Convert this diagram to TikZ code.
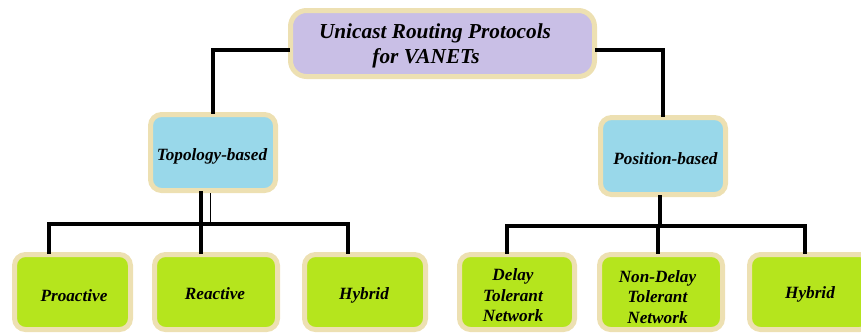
\documentclass[tikz,border=0pt]{standalone}
\usepackage{fontspec}
\setmainfont{Liberation Serif}
\definecolor{rimcol}{RGB}{237,224,178}
\definecolor{rootfill}{RGB}{201,191,230}
\definecolor{midfill}{RGB}{153,216,234}
\definecolor{leaffill}{RGB}{181,229,29}
\tikzset{
  box/.style={draw=rimcol, line width=5pt, rounded corners=11pt, inner sep=0pt},
  rootbox/.style={box, fill=rootfill, rounded corners=16pt},
  midbox/.style={box, fill=midfill},
  leafbox/.style={box, fill=leaffill},
  rootfont/.style={font=\fontsize{21.3}{25}\selectfont\bfseries\itshape, align=center, inner sep=0pt},
  midfont/.style={font=\fontsize{17.2}{20}\selectfont\bfseries\itshape, align=center, inner sep=0pt},
  leaffont/.style={font=\fontsize{17.2}{20.5}\selectfont\bfseries\itshape, align=center, inner sep=0pt},
  wire/.style={line width=3.2pt, line cap=rect, line join=miter},
}
\begin{document}
\begin{tikzpicture}[x=1pt, y=-1pt]
\useasboundingbox (0,0) rectangle (861,333);
\clip (0,0) rectangle (861,333);

% root
\node[rootbox, minimum width=304pt, minimum height=66pt,
  label={[rootfont, xshift=-7.5pt, yshift=-2.5pt]center:Unicast Routing Protocols\\for VANETs\hspace*{18pt}}]
  (root) at (442.5,43.5) {};

% second level
\node[midbox, minimum width=125pt, minimum height=76pt,
  label={[midfont, xshift=-1pt, yshift=-4pt]center:Topology-based}] (topo) at (213,152.5) {};
\node[midbox, minimum width=125pt, minimum height=77pt,
  label={[midfont, xshift=2.5pt, yshift=-3pt]center:Position-based}] (posb) at (663,156) {};

% leaves
\node[leafbox, minimum width=116pt, minimum height=75pt,
  label={[leaffont, xshift=1.5pt, yshift=-4pt]center:Proactive}] (pro) at (72.5,292) {};
\node[leafbox, minimum width=123pt, minimum height=75pt,
  label={[leaffont, xshift=-1pt, yshift=-2pt]center:Reactive}] (rea) at (216,292) {};
\node[leafbox, minimum width=121pt, minimum height=75pt,
  label={[leaffont, xshift=-1pt, yshift=-3pt]center:Hybrid}] (hyl) at (365,292) {};
\node[leafbox, minimum width=115pt, minimum height=75pt,
  label={[leaffont, xshift=-4pt, yshift=-3.5pt]center:Delay\\Tolerant\\Network}] (dtn) at (517,292) {};
\node[leafbox, minimum width=123pt, minimum height=75pt,
  label={[leaffont, xshift=-3.5pt, yshift=-5pt]center:Non-Delay\\Tolerant\\Network}] (ndt) at (661,292) {};
\node[leafbox, minimum width=121pt, minimum height=75pt,
  label={[leaffont, yshift=-2pt]center:Hybrid}] (hyr) at (810,292) {};

% root to second level
\draw[wire] ([yshift=-6.5pt]root.west) -| (topo.north);
\draw[wire] ([yshift=-6.5pt]root.east) -| (posb.north);

% topology-based branch
\coordinate (tj) at (201,224);
\coordinate (tl) at (49,224);
\coordinate (tr) at (348,224);
\draw[wire] (tj |- topo.south) -- (tj);
\draw[line width=1pt] (210,193) -- (210,222);
\draw[wire] (tl) -- (tr);
\draw[wire] (tl) -- (tl |- pro.north);
\draw[wire] (tj) -- (tj |- rea.north);
\draw[wire] (tr) -- (tr |- hyl.north);

% position-based branch
\coordinate (pj) at (660,226);
\coordinate (pl) at (507,226);
\coordinate (pm) at (658,226);
\coordinate (pr) at (805,226);
\draw[wire] (pj |- posb.south) -- (pj);
\draw[wire] (pl) -- (pr);
\draw[wire] (pl) -- (pl |- dtn.north);
\draw[wire] (pm) -- (pm |- ndt.north);
\draw[wire] (pr) -- (pr |- hyr.north);
\end{tikzpicture}
\end{document}
